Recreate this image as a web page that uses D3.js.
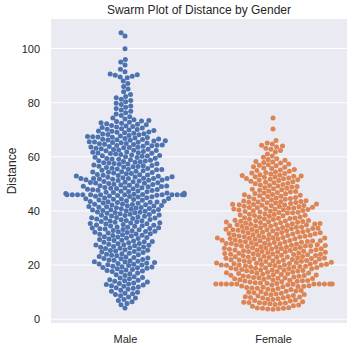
<!DOCTYPE html>
<html>
<head>
<meta charset="utf-8">
<script src="https://cdn.jsdelivr.net/npm/d3@7"></script>
<style>
  body { margin: 0; background: #fff; }
  text { font-family: Arial, "Liberation Sans", sans-serif; fill: #262626; }
</style>
</head>
<body>
<div id="chart"></div>
<script>
// categories and colours (seaborn "deep")
const categories = ["Male", "Female"];
const colors = ["#4c72b0", "#dd8452"];

// distances read off the swarm (one decimal, estimated)
const maleDistance = [
  4.1, 5.3, 5.8, 6.4, 6.9, 7.3, 7.8, 8.2, 8.7, 9.1, 9.4, 9.6, 10.0, 10.3, 10.7, 11.1, 11.4,
  11.6, 11.9, 12.2, 12.4, 12.6, 12.8, 13.0, 13.2, 13.4, 13.7, 14.0, 14.2, 14.4, 14.6, 14.9, 15.2, 15.4,
  15.7, 16.1, 16.4, 16.8, 17.1, 17.4, 17.6, 17.8, 18.0, 18.2, 18.4, 18.6, 18.8, 19.0, 19.1, 19.3, 19.4,
  19.6, 19.8, 20.0, 20.1, 20.3, 20.4, 20.6, 20.7, 20.9, 21.1, 21.2, 21.4, 21.6, 21.8, 21.9, 22.1, 22.3, 22.4,
  22.6, 22.8, 23.0, 23.2, 23.4, 23.6, 23.8, 24.0, 24.2, 24.4, 24.6, 24.8, 25.0, 25.2, 25.4,
  25.5, 25.7, 25.9, 26.1, 26.2, 26.4, 26.6, 26.7, 26.9, 27.1, 27.3, 27.4, 27.5, 27.7, 27.9, 28.0, 28.2, 28.4,
  28.6, 28.7, 28.9, 29.1, 29.2, 29.4, 29.6, 29.8, 30.0, 30.2, 30.4, 30.5, 30.7, 30.9, 31.0, 31.2, 31.4,
  31.5, 31.6, 31.8, 32.0, 32.1, 32.3, 32.4, 32.5, 32.7, 32.8, 33.0, 33.1, 33.3, 33.4,
  33.5, 33.7, 33.8, 34.0, 34.1, 34.3, 34.4, 34.5, 34.7, 34.8, 35.0, 35.2, 35.3, 35.4,
  35.5, 35.6, 35.8, 36.0, 36.1, 36.3, 36.4, 36.5, 36.7, 36.8, 37.0, 37.2, 37.3, 37.4,
  37.5, 37.6, 37.8, 38.0, 38.1, 38.3, 38.4, 38.5, 38.7, 38.8, 39.0, 39.1, 39.3, 39.4,
  39.5, 39.6, 39.8, 39.9, 40.1, 40.2, 40.3, 40.4, 40.5, 40.6, 40.8, 40.9, 41.1, 41.2, 41.3, 41.4,
  41.5, 41.6, 41.8, 41.9, 42.0, 42.2, 42.3, 42.4, 42.5, 42.6, 42.8, 42.9, 43.1, 43.2, 43.3, 43.4,
  43.5, 43.6, 43.8, 43.9, 44.0, 44.2, 44.3, 44.4, 44.5, 44.6, 44.8, 44.9, 45.1, 45.2, 45.3, 45.4,
  45.5, 45.7, 45.8, 46.0, 46.0, 46.0, 46.0, 46.0, 46.0, 46.0, 46.0, 46.0, 46.0, 46.0, 46.0, 46.1, 46.2, 46.4,
  46.5, 46.6, 46.8, 46.9, 47.1, 47.2, 47.3, 47.4, 47.5, 47.6, 47.8, 47.9, 48.0, 48.2, 48.3, 48.4,
  48.5, 48.6, 48.7, 48.9, 49.0, 49.1, 49.2, 49.3, 49.4, 49.5, 49.6, 49.8, 49.9, 50.1, 50.2, 50.3, 50.4,
  50.5, 50.6, 50.8, 50.9, 51.1, 51.2, 51.3, 51.4, 51.5, 51.7, 51.8, 52.0, 52.0, 52.0, 52.0, 52.0, 52.1, 52.3, 52.4,
  52.5, 52.6, 52.8, 52.9, 53.1, 53.2, 53.3, 53.4, 53.5, 53.7, 53.8, 54.0, 54.2, 54.3, 54.4,
  54.5, 54.7, 54.8, 55.0, 55.2, 55.3, 55.4, 55.5, 55.7, 55.8, 56.0, 56.2, 56.3, 56.4,
  56.5, 56.7, 56.8, 57.0, 57.2, 57.3, 57.4, 57.5, 57.7, 57.8, 58.0, 58.2, 58.3, 58.4,
  58.5, 58.7, 58.9, 59.1, 59.2, 59.4, 59.5, 59.7, 59.8, 60.0, 60.2, 60.3, 60.4,
  60.5, 60.7, 60.8, 61.0, 61.2, 61.3, 61.4, 61.5, 61.7, 61.8, 62.0, 62.2, 62.3, 62.4,
  62.5, 62.7, 62.8, 63.0, 63.2, 63.3, 63.4, 63.5, 63.6, 63.8, 63.9, 64.1, 64.2, 64.3, 64.4,
  64.5, 64.6, 64.8, 64.9, 65.1, 65.2, 65.3, 65.4, 65.5, 65.6, 65.8, 65.9, 66.1, 66.2, 66.3, 66.4,
  66.5, 66.6, 66.8, 66.9, 67.1, 67.2, 67.3, 67.4, 67.5, 67.7, 67.9, 68.1, 68.2, 68.4,
  68.5, 68.7, 68.9, 69.1, 69.2, 69.4, 69.5, 69.7, 69.9, 70.1, 70.2, 70.4,
  70.6, 70.8, 71.0, 71.2, 71.4, 71.6, 71.8, 72.0, 72.2, 72.4, 72.6, 72.8, 73.0, 73.2, 73.4,
  73.7, 74.0, 74.3, 74.8, 75.3, 75.8, 76.3, 76.8, 77.3, 77.8, 78.3, 78.8, 79.3, 79.8, 80.3,
  80.8, 81.3, 81.8, 82.3, 83.0, 84.0, 85.0, 86.0, 87.1, 88.0, 89.2, 89.5, 89.8, 90.1, 90.3, 90.6,
  91.4, 92.3, 93.9, 95.0, 95.9, 99.9, 104.6, 105.8
];
const femaleDistance = [
  3.7, 3.8, 3.9, 4.0, 4.0, 4.1, 4.2, 4.8, 5.0, 5.2, 5.4, 5.7, 5.8, 5.9, 6.0, 6.1, 6.2, 6.3, 6.4,
  6.7, 6.9, 7.1, 7.3, 7.4, 7.6, 7.8, 7.9, 8.0, 8.2, 8.3, 8.4, 8.6, 8.8, 9.0, 9.1, 9.3, 9.4,
  9.6, 9.8, 10.0, 10.1, 10.3, 10.4, 10.6, 10.8, 11.0, 11.1, 11.3, 11.4,
  11.5, 11.7, 11.8, 12.0, 12.1, 12.2, 12.3, 12.4,
  12.6, 12.7, 12.9, 13.0, 13.0, 13.0, 13.0, 13.0, 13.0, 13.0, 13.0, 13.0, 13.0, 13.2, 13.3, 13.4,
  13.5, 13.7, 13.8, 14.0, 14.1, 14.2, 14.3, 14.4, 14.5, 14.6, 14.8, 14.9, 15.0, 15.1, 15.2, 15.3, 15.4,
  15.5, 15.6, 15.8, 15.9, 16.0, 16.1, 16.2, 16.3, 16.4, 16.5, 16.6, 16.8, 16.9, 17.0, 17.1, 17.2, 17.3, 17.4,
  17.5, 17.6, 17.8, 17.9, 18.0, 18.1, 18.2, 18.3, 18.4, 18.5, 18.6, 18.7, 18.8, 18.9, 19.0, 19.1, 19.2, 19.3, 19.4,
  19.5, 19.6, 19.7, 19.8, 19.9, 20.0, 20.0, 20.0, 20.0, 20.1, 20.2, 20.3, 20.4,
  20.5, 20.6, 20.7, 20.8, 20.9, 21.0, 21.0, 21.1, 21.2, 21.3, 21.4,
  21.5, 21.6, 21.7, 21.8, 21.9, 22.0, 22.0, 22.1, 22.2, 22.3, 22.4,
  22.5, 22.6, 22.7, 22.8, 22.9, 23.0, 23.0, 23.1, 23.2, 23.3, 23.4,
  23.5, 23.6, 23.7, 23.8, 23.9, 24.0, 24.0, 24.1, 24.2, 24.3, 24.4,
  24.5, 24.6, 24.7, 24.8, 24.9, 25.0, 25.0, 25.1, 25.2, 25.3, 25.4,
  25.5, 25.6, 25.7, 25.8, 25.9, 26.0, 26.0, 26.1, 26.2, 26.3, 26.4,
  26.5, 26.6, 26.7, 26.8, 26.9, 27.0, 27.0, 27.1, 27.2, 27.3, 27.4,
  27.5, 27.6, 27.7, 27.8, 27.9, 28.0, 28.0, 28.1, 28.2, 28.3, 28.4,
  28.5, 28.6, 28.7, 28.8, 28.9, 29.0, 29.0, 29.1, 29.2, 29.3, 29.4,
  29.5, 29.6, 29.7, 29.8, 29.9, 30.0, 30.0, 30.1, 30.2, 30.3, 30.4,
  30.5, 30.6, 30.7, 30.8, 30.9, 31.0, 31.1, 31.2, 31.3, 31.4,
  31.5, 31.6, 31.7, 31.8, 31.9, 32.0, 32.1, 32.2, 32.3, 32.4,
  32.5, 32.6, 32.7, 32.8, 32.9, 33.0, 33.0, 33.1, 33.2, 33.3, 33.4,
  33.5, 33.6, 33.7, 33.8, 33.9, 34.0, 34.1, 34.2, 34.3, 34.4,
  34.5, 34.6, 34.7, 34.8, 34.9, 35.0, 35.1, 35.2, 35.3, 35.4,
  35.5, 35.6, 35.7, 35.8, 35.9, 36.0, 36.1, 36.2, 36.3, 36.4,
  36.5, 36.6, 36.8, 36.9, 37.1, 37.2, 37.3, 37.4, 37.5, 37.7, 37.8, 38.0, 38.2, 38.3, 38.4,
  38.5, 38.7, 38.8, 39.0, 39.2, 39.3, 39.4, 39.5, 39.6, 39.8, 39.9, 40.1, 40.2, 40.3, 40.4,
  40.5, 40.6, 40.7, 40.9, 41.0, 41.1, 41.2, 41.3, 41.4, 41.5, 41.6, 41.7, 41.9, 42.0, 42.1, 42.2, 42.3, 42.4,
  42.5, 42.6, 42.7, 42.9, 43.0, 43.1, 43.2, 43.3, 43.4, 43.5, 43.7, 43.8, 44.0, 44.2, 44.3, 44.4,
  44.6, 44.8, 45.0, 45.1, 45.3, 45.4, 45.6, 45.8, 46.0, 46.1, 46.3, 46.4,
  46.6, 46.8, 47.0, 47.2, 47.4, 47.6, 47.8, 48.0, 48.2, 48.4, 48.6, 48.8, 49.0, 49.2, 49.4,
  49.6, 49.8, 50.0, 50.2, 50.4, 50.6, 50.8, 51.0, 51.2, 51.4,
  51.5, 51.7, 51.9, 52.0, 52.2, 52.4, 52.5, 52.6, 52.8, 52.9, 53.1, 53.2, 53.4,
  53.6, 53.8, 54.0, 54.2, 54.4, 54.7, 54.9, 55.1, 55.3, 55.7, 55.9, 56.1, 56.3,
  56.7, 56.9, 57.1, 57.3, 57.7, 57.9, 58.1, 58.3, 58.7, 59.0, 59.3, 59.8, 60.3, 61.0,
  61.8, 62.3, 62.8, 63.2, 63.6, 64.0, 64.3, 64.7, 65.1, 66.0, 70.3, 74.3
];
const yTicks = [0, 20, 40, 60, 80, 100];

const width = 362, height = 351;
const margin = { top: 19, right: 15, bottom: 28, left: 51 };
const plotW = width - margin.left - margin.right;
const plotH = height - margin.top - margin.bottom;
const radius = 2.5;

const series = [maleDistance, femaleDistance];

const allValues = series.flat();
const [lo, hi] = d3.extent(allValues);
const pad = (hi - lo) * 0.05;

const x = d3.scaleLinear().domain([-0.5, categories.length - 0.5]).range([0, plotW]);
const y = d3.scaleLinear().domain([lo - pad, hi + pad]).range([plotH, 0]);

const svg = d3.select("#chart").append("svg")
    .attr("width", width)
    .attr("height", height);

const g = svg.append("g")
    .attr("transform", `translate(${margin.left},${margin.top})`);

g.append("rect")
    .attr("width", plotW)
    .attr("height", plotH)
    .attr("fill", "#eaeaf2");

// horizontal grid
g.selectAll(".grid")
    .data(yTicks)
    .join("line")
    .attr("class", "grid")
    .attr("x1", 0)
    .attr("x2", plotW)
    .attr("y1", d => y(d))
    .attr("y2", d => y(d))
    .attr("stroke", "#fff")
    .attr("stroke-width", 1);

// y axis labels
const yAxis = g.append("g")
    .call(d3.axisLeft(y).tickValues(yTicks).tickSize(0).tickPadding(11));
yAxis.select(".domain").remove();
yAxis.selectAll("text").style("font-size", "11px").attr("fill", "#262626");

// x axis labels
const xAxis = g.append("g")
    .attr("transform", `translate(0,${plotH})`)
    .call(d3.axisBottom(x).tickValues(d3.range(categories.length))
        .tickFormat(i => categories[i]).tickSize(0).tickPadding(12));
xAxis.select(".domain").remove();
xAxis.selectAll("text").style("font-size", "11px").attr("fill", "#262626");

svg.append("text")
    .attr("x", margin.left + plotW / 2)
    .attr("y", 14)
    .attr("text-anchor", "middle")
    .style("font-size", "12px")
    .text("Swarm Plot of Distance by Gender");

svg.append("text")
    .attr("transform", `translate(16,${margin.top + plotH / 2}) rotate(-90)`)
    .attr("text-anchor", "middle")
    .style("font-size", "12px")
    .text("Distance");

// seaborn-like beeswarm placement
function swarm(values, cx) {
    const d = 2 * radius;
    const pts = values.map(v => ({ v, x: cx, y: y(v) })).sort((a, b) => a.v - b.v);
    const placed = [];
    pts.forEach(p => {
        const neighbors = [];
        for (let j = placed.length - 1; j >= 0; j--) {
            if (Math.abs(placed[j].y - p.y) < d) neighbors.push(placed[j]);
            else break;
        }
        const cands = [cx];
        let leftFirst = true;
        neighbors.forEach(q => {
            const dy = p.y - q.y;
            const dx = Math.sqrt(Math.max(d * d - dy * dy, 0)) * 1.05;
            if (leftFirst) cands.push(q.x - dx, q.x + dx);
            else cands.push(q.x + dx, q.x - dx);
            leftFirst = !leftFirst;
        });
        const order = cands.map((c, i) => ({ c, i }))
            .sort((a, b) => Math.abs(a.c - cx) - Math.abs(b.c - cx) || a.i - b.i);
        for (const { c } of order) {
            if (neighbors.every(q => (q.x - c) ** 2 + (q.y - p.y) ** 2 >= d * d - 1e-6)) {
                p.x = c;
                break;
            }
        }
        placed.push(p);
    });
    // gutters at 80% of the category width
    const half = x(0.4) - x(0);
    placed.forEach(p => { p.x = Math.max(cx - half, Math.min(cx + half, p.x)); });
    return placed;
}

series.forEach((vals, i) => {
    const pts = swarm(vals, x(i));
    g.append("g")
        .selectAll("circle")
        .data(pts)
        .join("circle")
        .attr("cx", d => d.x)
        .attr("cy", d => d.y)
        .attr("r", radius)
        .attr("fill", colors[i]);
});
</script>
</body>
</html>
